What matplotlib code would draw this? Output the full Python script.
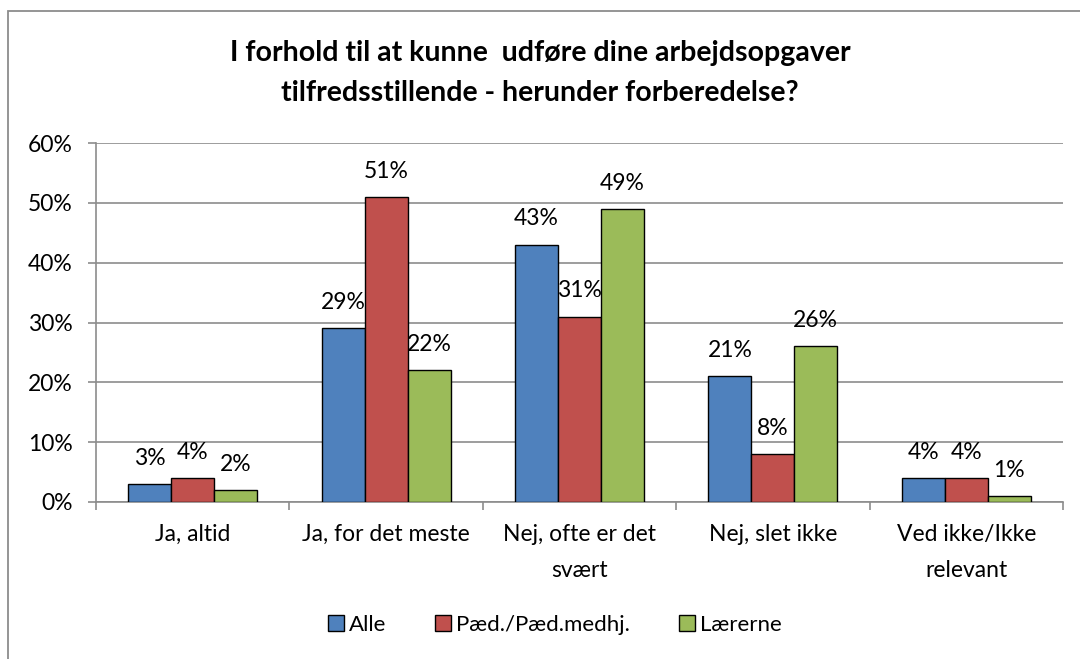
import matplotlib

matplotlib.use("Agg")

import matplotlib.pyplot as plt
import numpy as np
from matplotlib.patches import Rectangle

plt.rcParams["font.family"] = ["Lato", "DejaVu Sans"]

categories = ["Ja, altid", "Ja, for det meste", "Nej, ofte er det\nsvært", "Nej, slet ikke", "Ved ikke/Ikke\nrelevant"]
series_names = ["Alle", "Pæd./Pæd.medhj.", "Lærerne"]
alle = [3, 29, 43, 21, 4]
paed = [4, 51, 31, 8, 4]
laererne = [2, 22, 49, 26, 1]
colors = ["#4F81BD", "#C0504D", "#9BBB59"]

W, H = 1080, 659
fig = plt.figure(figsize=(W / 100, H / 100), dpi=100)
ax = fig.add_axes([96 / W, 1 - 502 / H, (1063 - 96) / W, (502 - 143) / H])

# outer chart border (only left and top visible in the crop)
fig.patches.append(Rectangle((8 / W, -0.1), 1.2, 1.1 - 11 / H, transform=fig.transFigure,
                             fill=False, edgecolor="#8c8c8c", linewidth=1.3))

x = np.arange(len(categories))
width = 0.222
for i, (name, vals) in enumerate(zip(series_names, [alle, paed, laererne])):
    pos = x + (i - 1) * width
    bars = ax.bar(pos, vals, width, color=colors[i], edgecolor="black", linewidth=1.0, label=name, zorder=3)
    for b, v in zip(bars, vals):
        ax.annotate(f"{v}%", (b.get_x() + b.get_width() / 2, v), xytext=(0, 11), textcoords="offset points",
                    ha="center", va="bottom", fontsize=16.5, color="black", zorder=4)

ax.set_xlim(-0.5, len(categories) - 0.5)
ax.set_ylim(0, 60)
ax.set_yticks(range(0, 61, 10))
ax.set_yticklabels([f"{t}%" for t in range(0, 61, 10)], fontsize=16.5)
ax.yaxis.grid(True, color="#8c8c8c", linewidth=1.2, zorder=0)
ax.set_axisbelow(True)

ax.set_xticks(np.arange(-0.5, len(categories), 1.0))
ax.set_xticklabels([])
ax.set_xticks(x, minor=True)
ax.set_xticklabels(categories, minor=True, fontsize=16.5, linespacing=1.85)
ax.tick_params(axis="x", which="minor", length=0, pad=16)
ax.tick_params(axis="x", which="major", length=6, color="#8c8c8c", width=1.2)
ax.tick_params(axis="y", length=6, color="#8c8c8c", width=1.2, pad=11)

for side in ["top", "right"]:
    ax.spines[side].set_visible(False)
for side in ["left", "bottom"]:
    ax.spines[side].set_color("#8c8c8c")
    ax.spines[side].set_linewidth(1.2)

fig.text(0.5, 1 - 73 / H, "I forhold til at kunne  udføre dine arbejdsopgaver\ntilfredsstillende - herunder forberedelse?",
         ha="center", va="center", fontsize=20.5, fontweight="bold", linespacing=1.7)

fig.legend(loc="center", bbox_to_anchor=(555 / W, 1 - 625 / H), ncol=3, frameon=False, fontsize=16,
           handlelength=0.7, handleheight=0.7, handletextpad=0.25, columnspacing=2.2)

fig.savefig("out.png", dpi=100, facecolor="white")
